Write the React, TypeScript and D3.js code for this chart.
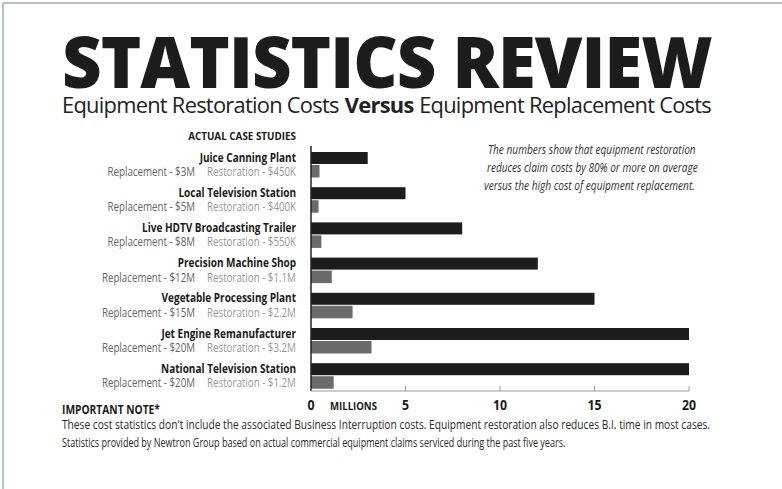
import React, { useLayoutEffect, useRef, useState } from "react";
import * as d3 from "d3";

const categories = [
  "Juice Canning Plant",
  "Local Television Station",
  "Live HDTV Broadcasting Trailer",
  "Precision Machine Shop",
  "Vegetable Processing Plant",
  "Jet Engine Remanufacturer",
  "National Television Station",
];
const replacementCosts = [3, 5, 8, 12, 15, 20, 20];
const restorationCosts = [0.45, 0.4, 0.55, 1.1, 2.2, 3.2, 1.2];
const replacementLabels = ["$3M", "$5M", "$8M", "$12M", "$15M", "$20M", "$20M"];
const restorationLabels = ["$450K", "$400K", "$550K", "$1.1M", "$2.2M", "$3.2M", "$1.2M"];
const xTicks = [0, 5, 10, 15, 20];

const title = "STATISTICS REVIEW";
const subtitleParts = ["Equipment Restoration Costs", "Versus", "Equipment Replacement Costs"];
const subtitleWeights = [400, 700, 400];
const caseHeader = "ACTUAL CASE STUDIES";
const calloutLines = [
  "The numbers show that equipment restoration",
  "reduces claim costs by 80% or more on average",
  "versus the high cost of equipment replacement.",
];
const noteHeader = "IMPORTANT NOTE*";
const noteLines = [
  "These cost statistics don't include the associated Business Interruption costs. Equipment restoration also reduces B.I. time in most cases.",
  "Statistics provided by Newtron Group based on actual commercial equipment claims serviced during the past five years.",
];

const FONT = "'Open Sans', 'Noto Sans', sans-serif";

// Text squeezed horizontally: either by a fixed factor (sx) or to a target width (fit)
function CText(props: {
  x: number;
  y: number;
  sx?: number;
  fit?: number;
  anchor?: string;
  size: number;
  weight?: number | string;
  fill?: string;
  italic?: boolean;
  spacing?: number;
  children: React.ReactNode;
}) {
  const { x, y, sx = 1, fit, anchor = "start", size, weight = 400, fill = "#1a1a1a", italic, spacing = 0 } = props;
  const ref = useRef<SVGTextElement>(null);
  const [scale, setScale] = useState(sx);
  useLayoutEffect(() => {
    if (fit && ref.current) {
      const w = ref.current.getBBox().width;
      if (w > 0) setScale(fit / w);
    }
  }, [fit, props.children, size]);
  return (
    <text
      ref={ref}
      transform={`translate(${x},${y}) scale(${scale},1)`}
      textAnchor={anchor}
      fontFamily={FONT}
      fontSize={size}
      fontWeight={weight}
      fontStyle={italic ? "italic" : "normal"}
      letterSpacing={spacing}
      fill={fill}
    >
      {props.children}
    </text>
  );
}

// Several text runs laid out on one line, squeezed together to a target width
function SplitFit(props: {
  x: number;
  y: number;
  fit: number;
  size: number;
  parts: string[];
  weights: number[];
  gap: number;
  spacing: number;
  fill: string;
}) {
  const { x, y, fit, size, parts, weights, gap, spacing, fill } = props;
  const refs = useRef<(SVGTextElement | null)[]>([]);
  const [layout, setLayout] = useState<{ xs: number[]; s: number }>({ xs: parts.map((_, i) => i * 200), s: 1 });
  useLayoutEffect(() => {
    const ws = refs.current.map((r) => (r ? r.getBBox().width : 0));
    const xs: number[] = [];
    let acc = 0;
    ws.forEach((w, i) => {
      xs.push(acc);
      acc += w + (i < ws.length - 1 ? gap : 0);
    });
    if (acc > 0) setLayout({ xs, s: fit / acc });
  }, [parts.join("|"), size]);
  return (
    <g transform={`translate(${x},${y}) scale(${layout.s},1)`}>
      {parts.map((p, i) => (
        <text
          key={i}
          ref={(el) => {
            refs.current[i] = el;
          }}
          x={layout.xs[i]}
          y={0}
          fontFamily={FONT}
          fontSize={size}
          fontWeight={weights[i]}
          letterSpacing={spacing}
          fill={fill}
        >
          {p}
        </text>
      ))}
    </g>
  );
}

export default function App() {
  const W = 782;
  const H = 489;
  const x = d3.scaleLinear().domain([0, 20]).range([311, 689]);
  const y = d3.scaleBand<string>().domain(categories).range([152, 152 + 7 * 35.2]).padding(0);
  const blackH = 12;
  const grayH = 12.5;
  const axisBottom = 391;

  return (
    <svg
      width={W}
      height={H}
      viewBox={`0 0 ${W} ${H}`}
      style={{ position: "absolute", left: 0, top: 0, display: "block", background: "#fff" }}
    >
      <rect x={0} y={0} width={W} height={H} fill="#fff" />
      {/* frame */}
      <line x1={3} y1={3} x2={W} y2={3} stroke="#b6bfcf" strokeWidth={2} />
      <line x1={3} y1={3} x2={3} y2={H} stroke="#b6bfcf" strokeWidth={2} />

      {/* title */}
      <CText x={62} y={88} fit={650} size={71} weight={800} fill="#1c1c1c" spacing={-1}>
        {title}
      </CText>
      <SplitFit
        x={62}
        y={113}
        fit={650}
        size={21}
        parts={subtitleParts}
        weights={subtitleWeights}
        gap={5}
        spacing={-0.7}
        fill="#222"
      />

      {/* case header */}
      <CText x={296} y={140} fit={108} anchor="end" size={11} weight={700}>
        {caseHeader}
      </CText>

      {/* row labels */}
      {categories.map((c, i) => {
        const top = y(c)!;
        return (
          <g key={c}>
            <CText x={296} y={top + 9.5} sx={0.77} anchor="end" size={13} weight={700}>
              {c}
            </CText>
            <CText x={195} y={top + 24} sx={0.75} anchor="end" size={13} fill="#666">
              {`Replacement - ${replacementLabels[i]}`}
            </CText>
            <CText x={207} y={top + 24} sx={0.75} anchor="start" size={13} fill="#999">
              {`Restoration - ${restorationLabels[i]}`}
            </CText>
          </g>
        );
      })}

      {/* bars */}
      {categories.map((c, i) => {
        const top = y(c)!;
        return (
          <g key={"b" + c}>
            <rect x={x(0)} y={top} width={x(replacementCosts[i]) - x(0)} height={blackH} fill="#1e1b1c" />
            <rect x={x(0)} y={top + 13} width={x(restorationCosts[i]) - x(0)} height={grayH} fill="#6b6b6e" />
          </g>
        );
      })}

      {/* axes */}
      <line x1={x(0)} y1={146} x2={x(0)} y2={axisBottom} stroke="#222" strokeWidth={1.5} />
      <line x1={x(0)} y1={axisBottom} x2={x(20)} y2={axisBottom} stroke="#9a9a9a" strokeWidth={1} />
      {xTicks.filter((t) => t > 0).map((t) => (
        <line key={"t" + t} x1={x(t)} y1={axisBottom - 5} x2={x(t)} y2={axisBottom} stroke="#9a9a9a" strokeWidth={1} />
      ))}
      {xTicks.map((t) => (
        <CText key={"l" + t} x={x(t)} y={410} sx={0.85} anchor="middle" size={14.5} weight={700}>
          {String(t)}
        </CText>
      ))}
      <CText x={330} y={410} fit={47} size={11} weight={700}>
        MILLIONS
      </CText>

      {/* callout */}
      {calloutLines.map((l, i) => (
        <CText
          key={"c" + i}
          x={[488, 487, 484][i]}
          y={154 + i * 18}
          fit={[208, 211, 211][i]}
          size={12.5}
          italic
          fill="#333"
        >
          {l}
        </CText>
      ))}

      {/* notes */}
      <CText x={62} y={414} fit={98} size={11.5} weight={700}>
        {noteHeader}
      </CText>
      {noteLines.map((l, i) => (
        <CText key={"n" + i} x={62} y={429 + i * 18} fit={[649, 504][i]} size={12} fill="#2a2a2a">
          {l}
        </CText>
      ))}
    </svg>
  );
}
